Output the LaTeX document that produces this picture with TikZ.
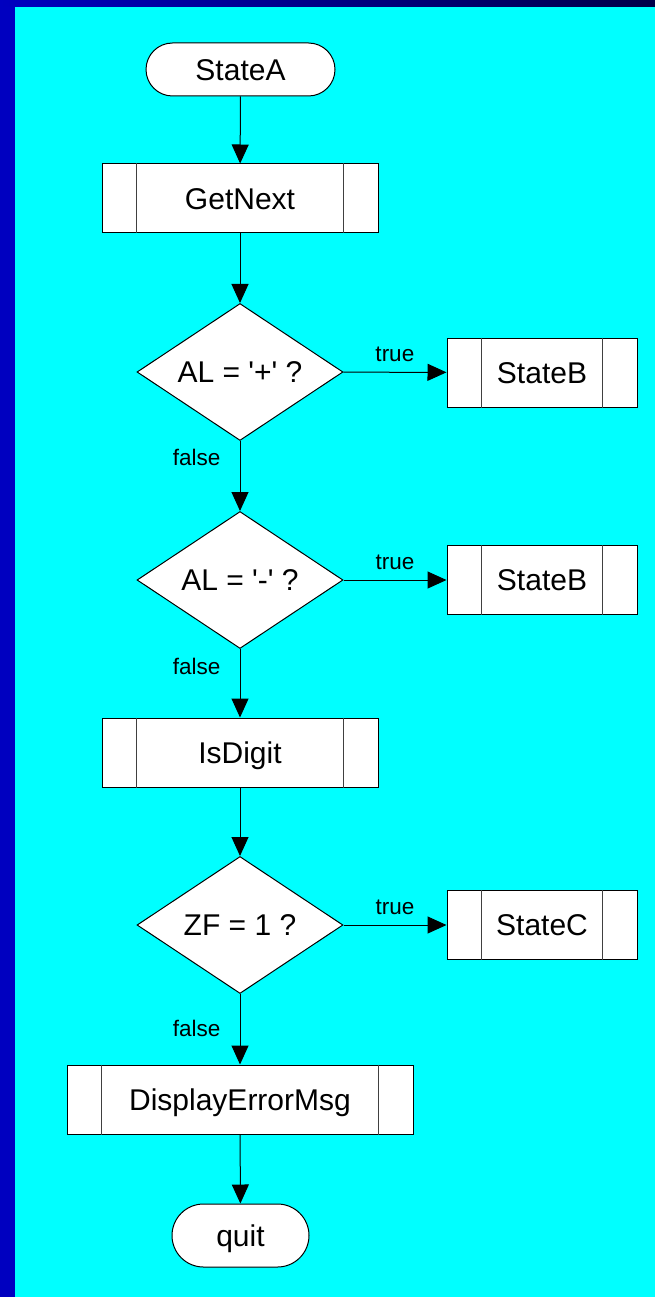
\documentclass[tikz,border=0pt]{standalone}
\usepackage{fontspec}
\setmainfont{Liberation Sans}
\usetikzlibrary{shapes.geometric, arrows.meta}
\definecolor{bgcyan}{RGB}{0,255,255}
\definecolor{frameblue}{RGB}{0,0,192}
\definecolor{framedark}{RGB}{0,0,72}
\newcommand{\sq}{\textquotesingle}

\begin{document}
\begin{tikzpicture}[x=1pt, y=-1pt,
  base/.style={draw=black, line width=1pt, fill=white, inner sep=0pt,
    font=\fontsize{30}{36}\selectfont, text height=21.5pt, text depth=0pt},
  terminal/.style={base, rectangle, minimum width=#1},
  proc/.style={base, rectangle, minimum width=#1, minimum height=69pt},
  decision/.style={base, diamond, aspect=1.5, minimum width=206pt, minimum height=137pt},
  arr/.style={-{Triangle[length=19pt, width=17pt]}, line width=1pt, draw=black},
  tlbl/.style={above=10pt, inner sep=0pt, font=\fontsize{22.5}{27}\selectfont},
  flbl/.style={pos=0, anchor=base east, inner sep=0pt, xshift=-19pt,
    font=\fontsize{22.5}{27}\selectfont},
  bar/.style={draw=black!75, line width=1pt}
]
\useasboundingbox (0,0) rectangle (655,1297);

% slide background and frame
\fill[bgcyan] (0,0) rectangle (655,1297);
\fill[frameblue] (0,0) rectangle (15,1297);
\shade[left color=frameblue, right color=framedark] (0,0) rectangle (655,7);

% flowchart nodes
\node[terminal=189pt, minimum height=53pt, rounded corners=26.5pt] (statea) at (240.5,69.5) {StateA};
\node[proc=276pt] (getnext) at (240,198.5) {GetNext};
\node[decision] (d1) at (240,372) {AL = \sq+\sq{} ?};
\node[proc=190pt] (stateb1) at (542,372.5) {StateB};
\node[decision] (d2) at (240,580) {AL = \sq-\sq{} ?};
\node[proc=190pt] (stateb2) at (542,580) {StateB};
\node[proc=276pt] (isdigit) at (240,752.5) {IsDigit};
\node[decision] (d3) at (240,925) {ZF = 1 ?};
\node[proc=190pt] (statec) at (542,925) {StateC};
\node[proc=346pt] (errmsg) at (240,1099.5) {DisplayErrorMsg};
\node[terminal=137pt, minimum height=63pt, rounded corners=31.5pt] (quit) at (240.5,1235.5) {quit};

% side bars of the predefined-process boxes
\foreach \n in {getnext, stateb1, stateb2, isdigit, statec, errmsg} {
  \draw[bar] ([xshift=35pt]\n.north west) -- ([xshift=35pt]\n.south west);
  \draw[bar] ([xshift=-35pt]\n.north east) -- ([xshift=-35pt]\n.south east);
}

% connectors
\draw[arr] (statea) -- (getnext);
\draw[arr] (getnext) -- (d1);
\draw[arr] (d1) -- node[tlbl] {true} (stateb1);
\draw[arr] (d1) -- node[flbl, yshift=-24pt] {false} (d2);
\draw[arr] (d2) -- node[tlbl] {true} (stateb2);
\draw[arr] (d2) -- node[flbl, yshift=-25pt] {false} (isdigit);
\draw[arr] (isdigit) -- (d3);
\draw[arr] (d3) -- node[tlbl] {true} (statec);
\draw[arr] (d3) -- node[flbl, yshift=-42pt] {false} (errmsg);
\draw[arr] (errmsg) -- (quit);
\end{tikzpicture}
\end{document}
